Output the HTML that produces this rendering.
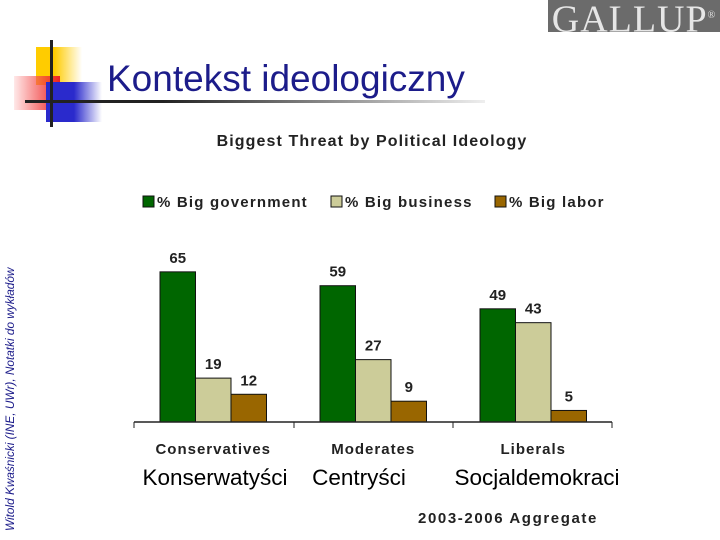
<!DOCTYPE html>
<html><head><meta charset="utf-8"><style>
body{margin:0;width:720px;height:540px;background:#fff;position:relative;overflow:hidden;font-family:"Liberation Sans",sans-serif}
.abs{position:absolute}
</style></head><body>
<div class="abs" style="left:548px;top:0;width:172px;height:32px;background:#6b6b6b;color:#e6e6e6;font-family:'Liberation Serif',serif;font-size:38px;line-height:32px;text-align:center;letter-spacing:1px;overflow:hidden">GALLUP<sup style="font-size:10px">®</sup></div>
<div class="abs" style="left:36px;top:47px;width:46px;height:38px;background:linear-gradient(90deg,#ffcc00 40%,rgba(255,230,120,0))"></div>
<div class="abs" style="left:14px;top:76px;width:46px;height:34px;background:linear-gradient(90deg,rgba(255,200,200,0.4),#ee2222)"></div>
<div class="abs" style="left:46px;top:82px;width:56px;height:40px;background:linear-gradient(90deg,#2a2acc 50%,rgba(60,60,220,0))"></div>
<div class="abs" style="left:50px;top:40px;width:3px;height:87px;background:#222"></div>
<div class="abs" style="left:25px;top:100px;width:460px;height:3px;background:linear-gradient(90deg,#222 30%,rgba(200,200,200,0.3))"></div>
<div class="abs" style="left:107px;top:58px;font-size:37px;color:#1c1c8a;white-space:nowrap">Kontekst ideologiczny</div>
<div class="abs" style="left:3px;top:531px;transform-origin:0 0;transform:rotate(-90deg);font-size:11.8px;font-style:italic;color:#1c1c8a;white-space:nowrap">Witold Kwaśnicki (INE, UWr), Notatki do wykładów</div>
<svg class="abs" style="left:0;top:0" width="720" height="540">
<text x="372" y="146" text-anchor="middle" font-size="16" letter-spacing="1.1" font-weight="bold" fill="#222">Biggest Threat by Political Ideology</text>
<g id="legend" font-size="15" font-weight="bold" fill="#222" letter-spacing="1.2"></g>
<g id="bars"></g>
<line x1="134" y1="422" x2="612" y2="422" stroke="#222" stroke-width="1.5"/>
<g id="ticks"></g>
<text x="508" y="523" text-anchor="middle" font-size="15" letter-spacing="1.6" font-weight="bold" fill="#222">2003-2006 Aggregate</text>
</svg>
<script>
const categories=["Conservatives","Moderates","Liberals"];
const polish=["Konserwatyści","Centryści","Socjaldemokraci"];
const series=["% Big government","% Big business","% Big labor"];
const bigGov=[65,59,49];
const bigBiz=[19,27,43];
const bigLabor=[12,9,5];
const colors=["#006600","#cccc99","#996600"];
const NS="http://www.w3.org/2000/svg";
const base=422,scale=2.31,g0=160,gstep=160,bw=35.5;
const y=v=>base-v*scale;
const bars=document.getElementById('bars');
[bigGov,bigBiz,bigLabor].forEach((vals,s)=>{
 vals.forEach((v,i)=>{
  const x=g0+i*gstep+s*bw;
  const r=document.createElementNS(NS,'rect');
  r.setAttribute('x',x);r.setAttribute('y',y(v));r.setAttribute('width',bw);r.setAttribute('height',v*scale);
  r.setAttribute('fill',colors[s]);r.setAttribute('stroke','#111');r.setAttribute('stroke-width','1');
  
  
  bars.appendChild(r);
  const t=document.createElementNS(NS,'text');
  t.setAttribute('x',x+bw/2);t.setAttribute('y',y(v)-9);t.setAttribute('text-anchor','middle');
  t.setAttribute('font-size','15');t.setAttribute('font-weight','bold');t.setAttribute('fill','#222');
  t.textContent=v;
  
  
  bars.appendChild(t);
 });
});
const ticks=document.getElementById('ticks');
[134,294,453,612].forEach(x=>{
 const l=document.createElementNS(NS,'line');
 l.setAttribute('x1',x);l.setAttribute('x2',x);l.setAttribute('y1',422);l.setAttribute('y2',428);l.setAttribute('stroke','#222');
 
 
 ticks.appendChild(l);
});
categories.forEach((c,i)=>{
 const cx=g0+i*gstep+bw*1.5;
 const t=document.createElementNS(NS,'text');
 t.setAttribute('x',cx);t.setAttribute('y',454);t.setAttribute('text-anchor','middle');
 t.setAttribute('font-size','15');t.setAttribute('font-weight','bold');t.setAttribute('fill','#222');
 t.setAttribute('letter-spacing','1');
 t.textContent=c;
 
 
 ticks.appendChild(t);
});
[[215],[359],[537]].forEach((p,i)=>{
 const t=document.createElementNS(NS,'text');
 t.setAttribute('x',p[0]);t.setAttribute('y',485);t.setAttribute('text-anchor','middle');
 t.setAttribute('font-size','22.5');t.setAttribute('fill','#000');
 t.textContent=polish[i];
 
 
 ticks.appendChild(t);
});
const legend=document.getElementById('legend');
[143,331,495].forEach((x,i)=>{
 const r=document.createElementNS(NS,'rect');
 r.setAttribute('x',x);r.setAttribute('y',196);r.setAttribute('width',11);r.setAttribute('height',11);
 r.setAttribute('fill',colors[i]);r.setAttribute('stroke','#111');
 
 
 legend.appendChild(r);
 const t=document.createElementNS(NS,'text');
 t.setAttribute('x',x+14);t.setAttribute('y',207);
 t.textContent=series[i];
 
 
 legend.appendChild(t);
});
</script>
</body></html>
